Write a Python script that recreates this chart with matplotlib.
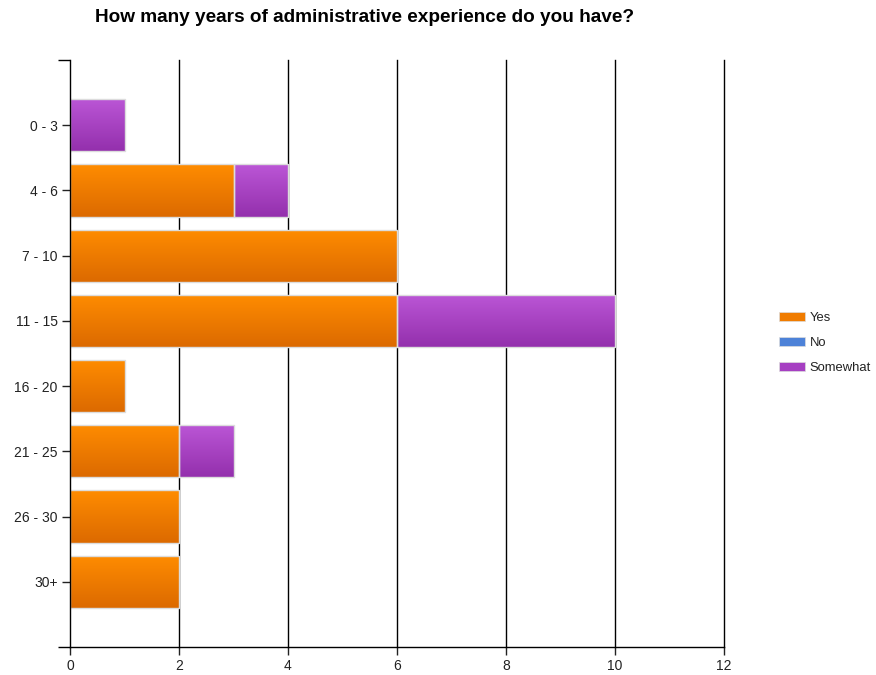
import numpy as np
import matplotlib
matplotlib.use("Agg")
import matplotlib.pyplot as plt
from matplotlib.patches import Patch
from matplotlib.colors import LinearSegmentedColormap

plt.rcParams['font.family'] = ['Liberation Sans', 'DejaVu Sans']

categories = ["0 - 3", "4 - 6", "7 - 10", "11 - 15", "16 - 20", "21 - 25", "26 - 30", "30+"]
yes = [0, 3, 6, 6, 1, 2, 2, 2]
no = [0, 0, 0, 0, 0, 0, 0, 0]
somewhat = [1, 1, 0, 4, 0, 1, 0, 0]
series_names = ["Yes", "No", "Somewhat"]
x_ticks = [0, 2, 4, 6, 8, 10, 12]

# (top colour, bottom colour) for each series' vertical gradient
gradients = {
    "Yes": ("#ff8c00", "#dc6a00"),
    "No": ("#5b93e6", "#3c6fc4"),
    "Somewhat": ("#bb56d6", "#9430ad"),
}
legend_colors = {"Yes": "#f07c00", "No": "#4d82d8", "Somewhat": "#a63fc2"}

fig = plt.figure(figsize=(8.76, 6.75), dpi=100)
ax = fig.add_axes([70 / 876, 28 / 675, 654 / 876, 587 / 675])

y = np.arange(len(categories))
height = 0.8
grad = np.linspace(0, 1, 64).reshape(-1, 1)


def gradient_bars(values, left, name):
    top, bottom = gradients[name]
    cmap = LinearSegmentedColormap.from_list(name, [top, bottom])
    bars = ax.barh(y, values, left=left, height=height, color="none",
                   edgecolor="#dcdcdc", linewidth=1.0, zorder=4)
    for bar in bars:
        w = bar.get_width()
        if w <= 0:
            bar.set_visible(False)
            continue
        x0, y0 = bar.get_x(), bar.get_y()
        h = bar.get_height()
        im = ax.imshow(grad, cmap=cmap, aspect="auto", origin="upper",
                       extent=[x0, x0 + w, y0 + h, y0], zorder=3,
                       interpolation="bilinear")
        im.set_clip_path(bar)


left = np.zeros(len(categories))
for name, vals in zip(series_names, [yes, no, somewhat]):
    gradient_bars(vals, left, name)
    left = left + np.array(vals)

ax.set_xlim(0, 12)
ax.set_ylim(len(categories), -1)

ax.set_xticks(x_ticks)
ax.set_xticklabels([str(t) for t in x_ticks])
ax.set_yticks(y)
ax.set_yticklabels(categories)
ax.tick_params(axis="both", colors="#222222", labelsize=10, length=6, width=1)
ax.tick_params(axis="y", pad=3)
ax.tick_params(axis="x", pad=3)

for t in x_ticks[1:]:
    ax.axvline(t, color="black", linewidth=1, zorder=1, clip_on=False)

for side in ["top", "right"]:
    ax.spines[side].set_visible(False)
for side in ["left", "bottom"]:
    ax.spines[side].set_color("black")
    ax.spines[side].set_linewidth(1)
    ax.spines[side].set_zorder(6)

# short marks at the ends of the category axis
ax.set_yticks([-1, len(categories)], minor=True)
ax.tick_params(axis="y", which="minor", length=9, width=1, color="black")

fig.text(365 / 876, 1 - 18 / 675, "How many years of administrative experience do you have?",
         ha="center", va="center", fontsize=13.7, fontweight="bold", color="black")

handles = [Patch(facecolor=legend_colors[n], edgecolor="#dcdcdc", linewidth=0.5) for n in series_names]
fig.legend(handles, series_names, loc="center left",
           bbox_to_anchor=(767 / 876, 1 - 343 / 675), frameon=False,
           fontsize=9.4, handlelength=2.0, handleheight=0.7,
           labelspacing=0.98, handletextpad=0.35, labelcolor="#222222")

fig.savefig("out.png", dpi=100)
